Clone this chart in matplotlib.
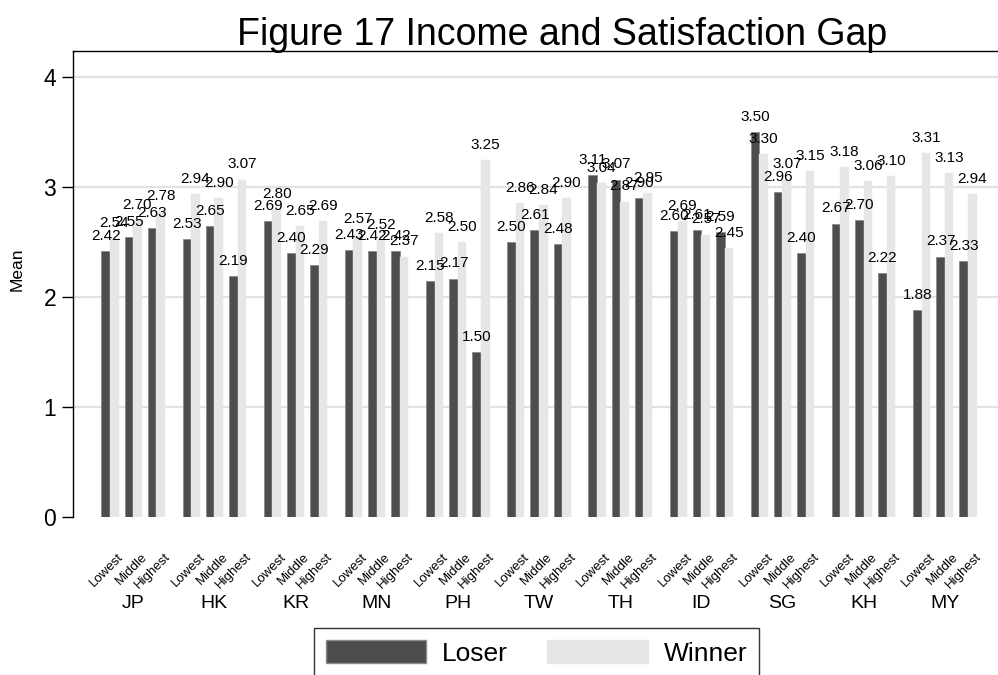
import matplotlib
matplotlib.use("Agg")
import matplotlib.pyplot as plt
from matplotlib.patches import Patch

plt.rcParams['font.family'] = ['Liberation Sans', 'DejaVu Sans']

countries = ["JP", "HK", "KR", "MN", "PH", "TW", "TH", "ID", "SG", "KH", "MY"]
groups = ["Lowest", "Middle", "Highest"]
loser = [
    [2.42, 2.55, 2.63],
    [2.53, 2.65, 2.19],
    [2.69, 2.40, 2.29],
    [2.43, 2.42, 2.42],
    [2.15, 2.17, 1.50],
    [2.50, 2.61, 2.48],
    [3.11, 3.07, 2.90],
    [2.60, 2.61, 2.59],
    [3.50, 2.96, 2.40],
    [2.67, 2.70, 2.22],
    [1.88, 2.37, 2.33],
]
winner = [
    [2.54, 2.70, 2.78],
    [2.94, 2.90, 3.07],
    [2.80, 2.65, 2.69],
    [2.57, 2.52, 2.37],
    [2.58, 2.50, 3.25],
    [2.86, 2.84, 2.90],
    [3.04, 2.87, 2.95],
    [2.69, 2.57, 2.45],
    [3.30, 3.07, 3.15],
    [3.18, 3.06, 3.10],
    [3.31, 3.13, 2.94],
]

W, H = 998, 675
fig = plt.figure(figsize=(W / 100, H / 100), dpi=100)
ax_l, ax_r, ax_t, ax_b = 73, 1005, 51, 517.3
ax = fig.add_axes([ax_l / W, (H - ax_b) / H, (ax_r - ax_l) / W, (ax_b - ax_t) / H])

dark = "#4d4d4d"
light = "#e6e6e6"
bw = 0.37
cstep = 3.5

for c in range(len(countries)):
    for g in range(3):
        pos = c * cstep + g
        lv = loser[c][g]
        wv = winner[c][g]
        ax.bar(pos - bw / 2, lv, width=bw, color=dark, edgecolor="#8a8a8a", linewidth=0.6, zorder=3)
        ax.bar(pos + bw / 2, wv, width=bw, color=light, edgecolor=light, linewidth=0.3, zorder=3)
        for xv, v in ((pos - bw / 2, lv), (pos + bw / 2, wv)):
            ax.annotate(f"{v:.2f}", (xv, v), xytext=(0, 8), textcoords="offset points",
                        ha="center", va="baseline", fontsize=11, zorder=5)
        ax.annotate(groups[g], (pos, 0), xytext=(5.5, -24), textcoords="offset points",
                    ha="right", va="top", rotation=45, rotation_mode="anchor",
                    fontsize=9.5, annotation_clip=False)
    ax.annotate(countries[c], (c * cstep + 1, 0), xytext=(0, -62), textcoords="offset points",
                ha="center", va="center", fontsize=14, annotation_clip=False)

ax.set_xlim(-1.595, 38.595)
ax.set_ylim(0, (ax_b - ax_t) / 110)
ax.set_yticks([0, 1, 2, 3, 4])
ax.set_yticklabels(["0", "1", "2", "3", "4"], fontsize=16.5)
ax.tick_params(axis="y", length=8, width=1, pad=4, direction="out")
ax.set_xticks([])
for y in [1, 2, 3, 4]:
    ax.axhline(y, color="#e2e2e2", linewidth=1.6, zorder=1)
for s in ax.spines.values():
    s.set_color("black")
    s.set_linewidth(1)
ax.spines["bottom"].set_visible(False)
ax.set_ylabel("Mean", fontsize=12.5)
ax.yaxis.set_label_coords((25 - ax_l) / (ax_r - ax_l), (ax_b - 269) / (ax_b - ax_t))

fig.text(562 / W, 1 - 35 / H, "Figure 17 Income and Satisfaction Gap", ha="center", va="center", fontsize=27)

handles = [Patch(facecolor=dark, edgecolor="#8a8a8a", label="Loser"),
           Patch(facecolor=light, edgecolor=light, label="Winner")]
leg = fig.legend(handles=handles, loc="upper left", bbox_to_anchor=(314 / W, 1 - 628 / H),
                 ncol=2, fontsize=19, handlelength=3.8, handleheight=1.0, handletextpad=0.6,
                 columnspacing=1.5, borderpad=0.45, frameon=True, fancybox=False, borderaxespad=0)
leg.get_frame().set_edgecolor("black")
leg.get_frame().set_linewidth(1)

fig.savefig("out.png", dpi=100)
